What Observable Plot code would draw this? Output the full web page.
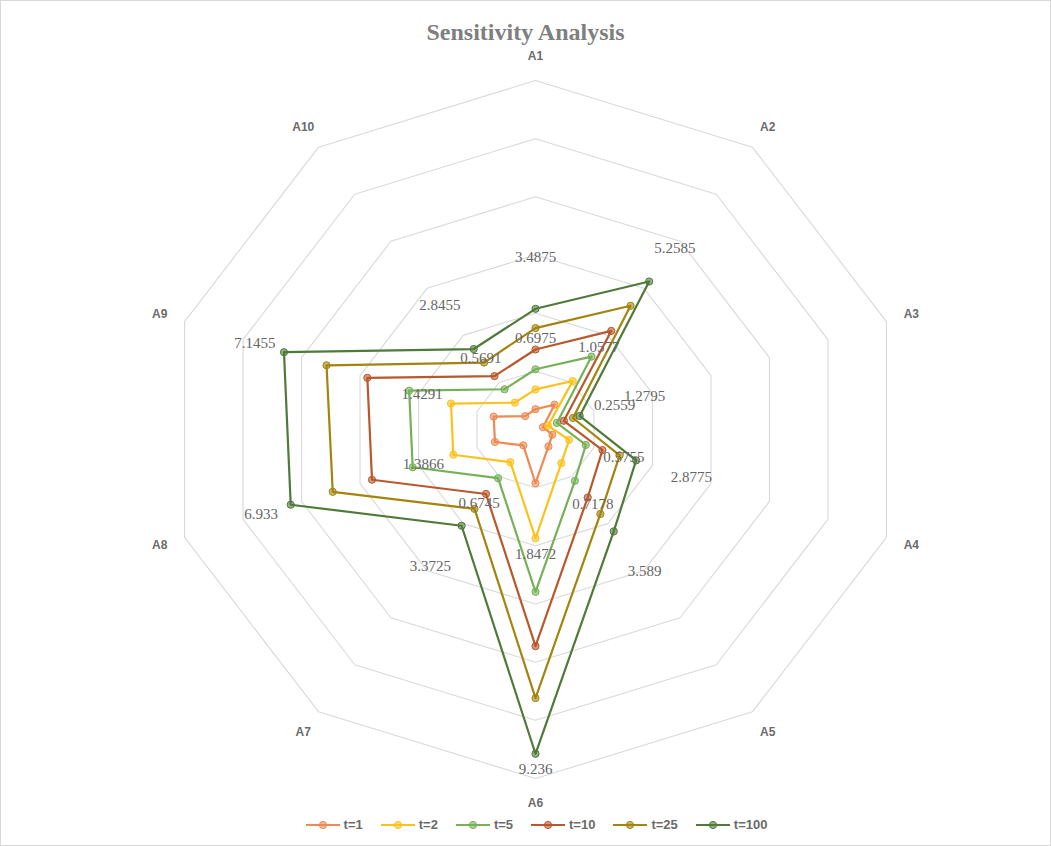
<!DOCTYPE html>
<html>
<head>
<meta charset="utf-8">
<script src="https://cdn.jsdelivr.net/npm/d3@7"></script>
<script src="https://cdn.jsdelivr.net/npm/@observablehq/plot@0.6"></script>
<style>
  body { margin: 0; background: #fff; }
  #wrap { position: relative; width: 1051px; height: 846px; overflow: hidden; background: #fff; }
  #chart { position: absolute; left: 0; top: 0; }
  #frame { position: absolute; left: 0; top: 0; width: 1051px; height: 846px; box-sizing: border-box; border: 1px solid #d9d9d9; pointer-events: none; }
  #title { position: absolute; top: 18px; left: 0; width: 1051px; text-align: center; font-family: "Liberation Serif", "Times New Roman", serif; font-weight: bold; font-size: 24px; color: #7f7f7f; line-height: 28px; }
  #legend { position: absolute; top: 817px; left: 0; width: 1051px; display: flex; justify-content: center; align-items: center; padding-left: 22px; box-sizing: border-box; }
  .item { display: flex; align-items: center; margin: 0 9px; font-family: "Liberation Sans", Arial, sans-serif; font-weight: bold; font-size: 13px; color: #6b6b6b; }
  .item svg { margin-right: 4px; }
</style>
</head>
<body>
<div id="wrap">
  <div id="chart"></div>
  <div id="title">Sensitivity Analysis</div>
  <div id="legend"></div>
  <div id="frame"></div>
</div>
<script>
// ---- data ----
const axesLabels = ["A1", "A2", "A3", "A4", "A5", "A6", "A7", "A8", "A9", "A10"];
const seriesNames = ["t=1", "t=2", "t=5", "t=10", "t=25", "t=100"];
const t1   = [0.6975, 1.0577, 0.2559, 0.5755, 0.7178, 1.8472, 0.6745, 1.3866, 1.4291, 0.5691];
const t2   = [1.38, 2.06, 0.43, 1.15, 1.43, 3.74, 1.39, 2.81, 2.89, 1.14];
const t5   = [2.07, 3.10, 0.73, 1.72, 2.18, 5.58, 2.07, 4.20, 4.32, 1.71];
const t10  = [2.75, 4.19, 0.97, 2.29, 2.89, 7.45, 2.74, 5.59, 5.75, 2.27];
const t25  = [3.4875, 5.2585, 1.2795, 2.8775, 3.589, 9.236, 3.3725, 6.933, 7.1455, 2.8455];
const t100 = [4.15, 6.29, 1.51, 3.44, 4.33, 11.15, 4.09, 8.37, 8.60, 3.42];
const ringLevels = [2, 4, 6, 8, 10, 12];
const labelledSeries = ["t=1", "t=25"];

const seriesValues = [t1, t2, t5, t10, t25, t100];
const colors = ["#ee8a52", "#fcc21b", "#76b157", "#b8582c", "#a3840d", "#4f7a39"];

// ---- geometry helpers (polar -> cartesian in data units) ----
const n = axesLabels.length;
const ang = i => (i % n) * 2 * Math.PI / n;
const px = (v, i) => v * Math.sin(ang(i));
const py = (v, i) => v * Math.cos(ang(i));
const maxR = d3.max(ringLevels);
const labelOffset = 2.45;
const axisLabelR = maxR + 0.85;

const ringRows = ringLevels.flatMap(k =>
  d3.range(n + 1).map(i => ({k, x: px(k, i), y: py(k, i)})));

const marks = [Plot.line(ringRows, {x: "x", y: "y", z: "k", stroke: "#d9d9d9", strokeWidth: 1.1})];

seriesNames.forEach((s, si) => {
  const vals = seriesValues[si];
  const rows = d3.range(n + 1).map(i => ({s, x: px(vals[i % n], i), y: py(vals[i % n], i)}));
  marks.push(Plot.line(rows, {x: "x", y: "y", stroke: colors[si], strokeWidth: 2.2}));
  marks.push(Plot.dot(rows.slice(0, n), {x: "x", y: "y", r: 3.6, fill: colors[si], fillOpacity: 0.6, stroke: colors[si], strokeWidth: 1}));
});

labelledSeries.forEach(s => {
  const vals = seriesValues[seriesNames.indexOf(s)];
  const rows = vals.map((v, i) => ({label: String(v), x: px(v + labelOffset, i), y: py(v + labelOffset, i)}));
  marks.push(Plot.text(rows, {x: "x", y: "y", text: "label", fontFamily: "Liberation Serif, Times New Roman, serif", fontSize: 15, fill: "#666666"}));
});

const axisRows = axesLabels.map((a, i) => ({a, x: px(axisLabelR, i), y: py(axisLabelR, i)}));
marks.push(Plot.text(axisRows, {x: "x", y: "y", text: "a", fontFamily: "Liberation Sans, Arial, sans-serif", fontSize: 12, fontWeight: "bold", fill: "#6b6b6b"}));

const cx = 535, cy = 429, rx = 369, ry = 349;
const chart = Plot.plot({
  width: 1051,
  height: 846,
  x: {domain: [-maxR, maxR], range: [cx - rx, cx + rx], axis: null},
  y: {domain: [-maxR, maxR], range: [cy + ry, cy - ry], axis: null},
  style: {background: "transparent", overflow: "visible"},
  marks
});
document.getElementById("chart").appendChild(chart);

// ---- legend ----
const legend = document.getElementById("legend");
seriesNames.forEach((s, si) => {
  const item = document.createElement("div");
  item.className = "item";
  item.innerHTML = `<svg width="34" height="14"><line x1="0" y1="7" x2="34" y2="7" stroke="${colors[si]}" stroke-width="2.2"/><circle cx="17" cy="7" r="3.6" fill="${colors[si]}" fill-opacity="0.6" stroke="${colors[si]}"/></svg><span>${s}</span>`;
  legend.appendChild(item);
});
</script>
</body>
</html>
